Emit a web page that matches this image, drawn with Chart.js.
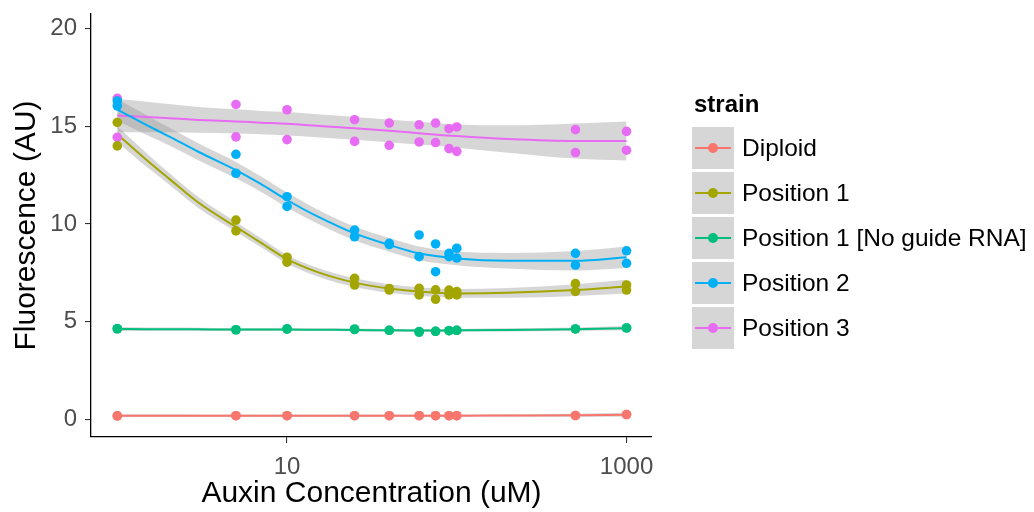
<!DOCTYPE html>
<html>
<head>
<meta charset="utf-8">
<script src="https://cdn.jsdelivr.net/npm/chart.js@4.4.0/dist/chart.umd.min.js"></script>
<style>
  body { margin: 0; background: #fff; }
  #wrap { position: relative; width: 1034px; height: 512px; font-family: "Liberation Sans", Arial, sans-serif; }
  #chart { position: absolute; left: 0; top: 0; }
  #legend { position: absolute; left: 692px; top: 0; }
  #legend .title { position: absolute; left: 2px; top: 90px; font-size: 24px; font-weight: bold; color: #000; white-space: nowrap; }
  #legend .key { position: absolute; left: 0; width: 42px; height: 42px; background: #d6d6d6; }
  #legend .key .ln { position: absolute; left: 3px; right: 3px; top: 20px; height: 2px; }
  #legend .key .dot { position: absolute; left: 16px; top: 16px; width: 10px; height: 10px; border-radius: 50%; }
  #legend .lab { position: absolute; left: 50px; font-size: 24.5px; color: #000; white-space: nowrap; line-height: 42px; }
</style>
</head>
<body>
<div id="wrap">
  <canvas id="chart" width="1034" height="512"></canvas>
  <div id="legend"></div>
</div>
<script>
// strains and colours (ggplot default hue palette)
const strains = ["Diploid", "Position 1", "Position 1 [No guide RNA]", "Position 2", "Position 3"];
const colors = ["#F8766D", "#A3A500", "#00BF7D", "#00B0F6", "#E76BF3"];

// raw measurements, two replicates per concentration (uM)
const concentrations = [1, 1, 5, 5, 10, 10, 25, 25, 40, 40, 60, 60, 75, 75, 90, 90, 100, 100, 500, 500, 1000, 1000];
const diploidPts = [0.18, 0.18, 0.19, 0.19, 0.19, 0.19, 0.19, 0.19, 0.19, 0.19, 0.19, 0.19, 0.19, 0.19, 0.19, 0.19, 0.19, 0.19, 0.2, 0.2, 0.25, 0.25];
const pos1Pts = [15.2, 14.0, 10.2, 9.65, 8.3, 8.05, 7.22, 6.88, 6.7, 6.62, 6.71, 6.37, 6.63, 6.15, 6.62, 6.37, 6.54, 6.37, 6.95, 6.55, 6.88, 6.62];
const pos1NoGuidePts = [4.64, 4.64, 4.59, 4.59, 4.64, 4.62, 4.63, 4.6, 4.56, 4.56, 4.46, 4.5, 4.51, 4.51, 4.54, 4.54, 4.56, 4.56, 4.63, 4.63, 4.68, 4.68];
const pos2Pts = [16.3, 16.05, 13.57, 12.6, 11.4, 10.9, 9.69, 9.35, 9.01, 8.95, 9.44, 8.33, 8.98, 7.56, 8.5, 8.33, 8.76, 8.26, 8.5, 7.9, 8.63, 7.99];
const pos3Pts = [16.43, 14.44, 16.12, 14.46, 15.85, 14.32, 15.34, 14.23, 15.17, 14.03, 15.08, 14.2, 15.17, 14.17, 14.88, 13.86, 14.97, 13.72, 14.83, 13.66, 14.74, 13.78];

// loess fit, with the half width of the grey band
const fitX = [1, 1.5, 2, 3, 5, 7, 10, 15, 25, 40, 60, 100, 200, 500, 1000];
const diploidFit = [0.19, 0.19, 0.19, 0.19, 0.19, 0.19, 0.19, 0.19, 0.19, 0.19, 0.19, 0.19, 0.2, 0.21, 0.24];
const diploidSe = [0.08, 0.07, 0.07, 0.06, 0.06, 0.06, 0.06, 0.06, 0.06, 0.06, 0.06, 0.06, 0.06, 0.08, 0.1];
const pos1Fit = [14.6, 13.25, 12.35, 11.1, 9.85, 9.05, 8.2, 7.55, 7.0, 6.7, 6.55, 6.45, 6.48, 6.62, 6.8];
const pos1Se = [0.4, 0.35, 0.3, 0.28, 0.25, 0.23, 0.22, 0.22, 0.22, 0.22, 0.22, 0.22, 0.25, 0.3, 0.35];
const pos1NoGuideFit = [4.63, 4.62, 4.62, 4.61, 4.6, 4.6, 4.6, 4.59, 4.58, 4.56, 4.55, 4.56, 4.58, 4.62, 4.67];
const pos1NoGuideSe = [0.1, 0.09, 0.08, 0.08, 0.07, 0.07, 0.07, 0.07, 0.07, 0.07, 0.07, 0.07, 0.08, 0.09, 0.11];
const pos2Fit = [15.85, 15.05, 14.5, 13.7, 12.76, 12.05, 11.23, 10.4, 9.52, 8.93, 8.5, 8.24, 8.12, 8.12, 8.3];
const pos2Se = [0.55, 0.5, 0.45, 0.43, 0.42, 0.4, 0.38, 0.36, 0.35, 0.35, 0.35, 0.35, 0.4, 0.5, 0.55];
const pos3Fit = [15.55, 15.48, 15.42, 15.33, 15.25, 15.19, 15.13, 15.03, 14.9, 14.77, 14.65, 14.5, 14.35, 14.25, 14.25];
const pos3Se = [0.85, 0.78, 0.72, 0.66, 0.62, 0.6, 0.6, 0.59, 0.58, 0.58, 0.58, 0.6, 0.7, 0.9, 1.0];

// tick labels
const xTicks = [10, 1000];
const yTicks = [0, 5, 10, 15, 20];

const allPts = [diploidPts, pos1Pts, pos1NoGuidePts, pos2Pts, pos3Pts];
const allFit = [diploidFit, pos1Fit, pos1NoGuideFit, pos2Fit, pos3Fit];
const allSe = [diploidSe, pos1Se, pos1NoGuideSe, pos2Se, pos3Se];

const FONT = "'Liberation Sans', Arial, sans-serif";
const bandFill = "rgba(153,153,153,0.4)";

// build datasets: band upper, band lower, fit line, points
const datasets = [];
strains.forEach((name, i) => {
  const fit = allFit[i], se = allSe[i];
  datasets.push({
    data: fitX.map((x, j) => ({ x, y: fit[j] + se[j] })),
    borderWidth: 0, pointRadius: 0, fill: "+1", backgroundColor: bandFill,
    cubicInterpolationMode: "monotone", order: 3,
  });
  datasets.push({
    data: fitX.map((x, j) => ({ x, y: fit[j] - se[j] })),
    borderWidth: 0, pointRadius: 0, fill: false,
    cubicInterpolationMode: "monotone", order: 3,
  });
  datasets.push({
    label: name,
    data: fitX.map((x, j) => ({ x, y: fit[j] })),
    borderColor: colors[i], borderWidth: 2, pointRadius: 0, fill: false,
    cubicInterpolationMode: "monotone", order: 2,
  });
  datasets.push({
    data: concentrations.map((x, j) => ({ x, y: allPts[i][j] })),
    showLine: false, pointRadius: 4.8, pointBorderWidth: 0,
    pointBackgroundColor: colors[i], order: 1,
  });
});

const axisCommon = {
  grid: { display: true, drawOnChartArea: false, drawTicks: true, tickLength: 6, color: "#333", lineWidth: 1.1 },
  border: { display: true, color: "#000", width: 1.3 },
};

new Chart(document.getElementById("chart").getContext("2d"), {
  type: "line",
  data: { datasets },
  options: {
    responsive: false,
    animation: false,
    events: [],
    layout: { padding: { top: 14, right: 382, left: 0, bottom: 0 } },
    plugins: { legend: { display: false }, tooltip: { enabled: false } },
    scales: {
      x: {
        ...axisCommon,
        type: "logarithmic",
        min: Math.pow(10, -0.15),
        max: Math.pow(10, 3.15),
        afterBuildTicks: (s) => { s.ticks = xTicks.map((v) => ({ value: v })); },
        afterFit: (s) => { s.height = 75; },
        ticks: {
          autoSkip: false, maxRotation: 0, padding: 10, color: "#4d4d4d",
          font: { family: FONT, size: 24 },
          callback: (v) => String(v),
        },
        title: { display: true, text: "Auxin Concentration (uM)", color: "#000",
          font: { family: FONT, size: 30 }, padding: { top: 0, bottom: 0 } },
      },
      y: {
        ...axisCommon,
        type: "linear",
        min: -0.9,
        max: 20.75,
        afterBuildTicks: (s) => { s.ticks = yTicks.map((v) => ({ value: v })); },
        afterFit: (s) => { s.width = 91; s.paddingTop = 0; s.paddingBottom = 0; },
        ticks: { padding: 8, color: "#4d4d4d", font: { family: FONT, size: 24 } },
        title: { display: true, text: "Fluorescence (AU)", color: "#000",
          font: { family: FONT, size: 30 }, padding: { top: 9, bottom: 0 } },
      },
    },
  },
});

// ggplot style legend
const legendEl = document.getElementById("legend");
let html = '<div class="title">strain</div>';
strains.forEach((name, i) => {
  const top = 127 + i * 44.9;
  html += `<div class="key" style="top:${top}px"><div class="ln" style="background:${colors[i]}"></div>` +
    `<div class="dot" style="background:${colors[i]}"></div></div>` +
    `<div class="lab" style="top:${top}px">${name}</div>`;
});
legendEl.innerHTML = html;
</script>
</body>
</html>
